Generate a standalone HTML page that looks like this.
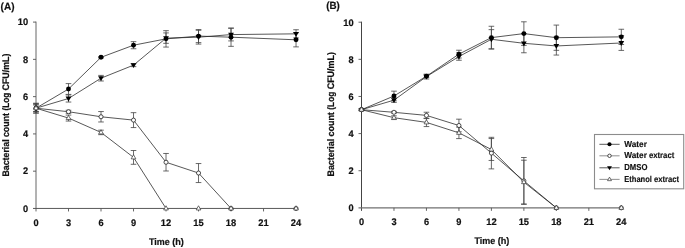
<!DOCTYPE html>
<html><head><meta charset="utf-8"><title>Bacterial count</title>
<style>
html,body{margin:0;padding:0;background:#fff;}
svg{display:block}
text{font-family:"Liberation Sans",sans-serif;font-weight:bold;fill:#111;text-rendering:geometricPrecision}
.t{font-size:9.5px;stroke:#111;stroke-width:0.2px}
.l{font-size:8.6px;stroke:#111;stroke-width:0.15px}
.p{font-size:10.4px;stroke:#111;stroke-width:0.2px}
</style></head><body>
<svg width="685" height="248" viewBox="0 0 685 248">
<rect width="685" height="248" fill="#fff"/>
<text x="0.6" y="9.7" class="p" textLength="13.9" lengthAdjust="spacingAndGlyphs">(A)</text>
<text x="326.2" y="8.8" class="p" textLength="13.6" lengthAdjust="spacingAndGlyphs">(B)</text>
<g>
<path d="M36.00 21.60V211.45" stroke="#666" stroke-width="1.0" fill="none"/>
<path d="M33.00 208.45H296.04" stroke="#505050" stroke-width="0.95" fill="none"/>
<path d="M33.00 171.18H36.00M33.00 133.91H36.00M33.00 96.64H36.00M33.00 59.37H36.00M33.00 22.10H36.00M68.50 208.45V211.45M101.01 208.45V211.45M133.52 208.45V211.45M166.02 208.45V211.45M198.53 208.45V211.45M231.03 208.45V211.45M263.54 208.45V211.45" stroke="#555" stroke-width="0.9" fill="none"/>
<text x="28.20" y="211.75" text-anchor="end" class="t" textLength="5.15" lengthAdjust="spacingAndGlyphs">0</text>
<text x="28.20" y="174.48" text-anchor="end" class="t" textLength="5.15" lengthAdjust="spacingAndGlyphs">2</text>
<text x="28.20" y="137.21" text-anchor="end" class="t" textLength="5.15" lengthAdjust="spacingAndGlyphs">4</text>
<text x="28.20" y="99.94" text-anchor="end" class="t" textLength="5.15" lengthAdjust="spacingAndGlyphs">6</text>
<text x="28.20" y="62.67" text-anchor="end" class="t" textLength="5.15" lengthAdjust="spacingAndGlyphs">8</text>
<text x="28.20" y="25.40" text-anchor="end" class="t" textLength="10.4" lengthAdjust="spacingAndGlyphs">10</text>
<text x="36.00" y="225.75" text-anchor="middle" class="t" textLength="5.15" lengthAdjust="spacingAndGlyphs">0</text>
<text x="68.50" y="225.75" text-anchor="middle" class="t" textLength="5.15" lengthAdjust="spacingAndGlyphs">3</text>
<text x="101.01" y="225.75" text-anchor="middle" class="t" textLength="5.15" lengthAdjust="spacingAndGlyphs">6</text>
<text x="133.52" y="225.75" text-anchor="middle" class="t" textLength="5.15" lengthAdjust="spacingAndGlyphs">9</text>
<text x="166.02" y="225.75" text-anchor="middle" class="t" textLength="10.4" lengthAdjust="spacingAndGlyphs">12</text>
<text x="198.53" y="225.75" text-anchor="middle" class="t" textLength="10.4" lengthAdjust="spacingAndGlyphs">15</text>
<text x="231.03" y="225.75" text-anchor="middle" class="t" textLength="10.4" lengthAdjust="spacingAndGlyphs">18</text>
<text x="263.54" y="225.75" text-anchor="middle" class="t" textLength="10.4" lengthAdjust="spacingAndGlyphs">21</text>
<text x="296.04" y="225.75" text-anchor="middle" class="t" textLength="10.4" lengthAdjust="spacingAndGlyphs">24</text>
<text y="245.05" class="t"><tspan x="149.00" textLength="20.8" lengthAdjust="spacingAndGlyphs">Time</tspan> <tspan x="172.20" textLength="11.7" lengthAdjust="spacingAndGlyphs">(h)</tspan></text>
<text transform="translate(8.65 176.55) rotate(-90)" y="0" class="t"><tspan x="0.00" textLength="37.20" lengthAdjust="spacingAndGlyphs">Bacterial</tspan> <tspan x="39.50" textLength="24.10" lengthAdjust="spacingAndGlyphs">count</tspan> <tspan x="66.00" textLength="17.80" lengthAdjust="spacingAndGlyphs">(Log</tspan> <tspan x="86.10" textLength="36.80" lengthAdjust="spacingAndGlyphs">CFU/mL)</tspan></text>
<path d="M36.00 108.19L68.50 89.00M68.50 89.00L101.01 57.32M101.01 57.32L133.52 45.21M133.52 45.21L166.02 38.87M166.02 38.87L198.53 36.08M198.53 36.08L231.03 37.19M231.03 37.19L296.04 39.80" stroke="#262626" stroke-width="0.77" fill="none"/>
<path d="M36.00 103.35V113.04M33.20 103.35H38.80M33.20 113.04H38.80M68.50 83.60V94.40M65.70 83.60H71.30M65.70 94.40H71.30M101.01 56.57V58.07M98.21 56.57H103.81M98.21 58.07H103.81M133.52 41.67V48.75M130.72 41.67H136.32M130.72 48.75H136.32M166.02 30.67V47.07M163.22 30.67H168.82M163.22 47.07H168.82M198.53 29.55V42.60M195.72 29.55H201.33M195.72 42.60H201.33M231.03 28.06V46.33M228.23 28.06H233.83M228.23 46.33H233.83M296.04 32.72V46.88M293.24 32.72H298.84M293.24 46.88H298.84" stroke="#444" stroke-width="0.8" fill="none"/>
<path d="M36.00 108.19L68.50 98.50M68.50 98.50L101.01 78.19M101.01 78.19L133.52 65.15M133.52 65.15L166.02 38.13M166.02 38.13L198.53 37.19M198.53 37.19L231.03 34.59M231.03 34.59L296.04 33.84" stroke="#262626" stroke-width="0.77" fill="none"/>
<path d="M36.00 104.84V111.55M33.20 104.84H38.80M33.20 111.55H38.80M68.50 94.96V102.04M65.70 94.96H71.30M65.70 102.04H71.30M101.01 75.40V80.99M98.21 75.40H103.81M98.21 80.99H103.81M133.52 63.66V66.64M130.72 63.66H136.32M130.72 66.64H136.32M166.02 32.91V43.34M163.22 32.91H168.82M163.22 43.34H168.82M198.53 30.30V44.09M195.72 30.30H201.33M195.72 44.09H201.33M231.03 28.25V40.92M228.23 28.25H233.83M228.23 40.92H233.83M296.04 29.74V37.94M293.24 29.74H298.84M293.24 37.94H298.84" stroke="#444" stroke-width="0.8" fill="none"/>
<path d="M36.00 108.19L68.50 111.73M68.50 111.73L101.01 116.77M101.01 116.77L133.52 120.12M133.52 120.12L166.02 162.24M166.02 162.24L198.53 173.04M198.53 173.04L231.03 208.45" stroke="#262626" stroke-width="0.77" fill="none"/>
<path d="M36.00 103.35V113.04M33.20 103.35H38.80M33.20 113.04H38.80M68.50 110.24V113.23M65.70 110.24H71.30M65.70 113.23H71.30M101.01 111.55V121.98M98.21 111.55H103.81M98.21 121.98H103.81M133.52 112.67V127.57M130.72 112.67H136.32M130.72 127.57H136.32M166.02 153.48V170.99M163.22 153.48H168.82M163.22 170.99H168.82M198.53 163.54V182.55M195.72 163.54H201.33M195.72 182.55H201.33" stroke="#444" stroke-width="0.8" fill="none"/>
<path d="M36.00 108.19L68.50 118.07M68.50 118.07L101.01 132.42M101.01 132.42L133.52 157.39M133.52 157.39L166.02 208.45" stroke="#262626" stroke-width="0.77" fill="none"/>
<path d="M36.00 104.84V111.55M33.20 104.84H38.80M33.20 111.55H38.80M68.50 115.09V121.05M65.70 115.09H71.30M65.70 121.05H71.30M101.01 130.18V134.66M98.21 130.18H103.81M98.21 134.66H103.81M133.52 150.50V164.29M130.72 150.50H136.32M130.72 164.29H136.32" stroke="#444" stroke-width="0.8" fill="none"/>
<circle cx="36.00" cy="108.19" r="2.45" fill="#000"/>
<circle cx="68.50" cy="89.00" r="2.45" fill="#000"/>
<circle cx="101.01" cy="57.32" r="2.45" fill="#000"/>
<circle cx="133.52" cy="45.21" r="2.45" fill="#000"/>
<circle cx="166.02" cy="38.87" r="2.45" fill="#000"/>
<circle cx="198.53" cy="36.08" r="2.45" fill="#000"/>
<circle cx="231.03" cy="37.19" r="2.45" fill="#000"/>
<circle cx="296.04" cy="39.80" r="2.45" fill="#000"/>
<path d="M65.60 96.60H71.41L68.50 101.40Z" fill="#000"/>
<path d="M98.11 76.29H103.91L101.01 81.09Z" fill="#000"/>
<path d="M130.62 63.25H136.42L133.52 68.05Z" fill="#000"/>
<path d="M163.12 36.23H168.92L166.02 41.03Z" fill="#000"/>
<path d="M195.62 35.29H201.43L198.53 40.09Z" fill="#000"/>
<path d="M228.13 32.69H233.93L231.03 37.49Z" fill="#000"/>
<path d="M293.14 31.94H298.94L296.04 36.74Z" fill="#000"/>
<circle cx="36.00" cy="108.19" r="2.05" fill="#fff" stroke="#222" stroke-width="0.8"/>
<circle cx="68.50" cy="111.73" r="2.05" fill="#fff" stroke="#222" stroke-width="0.8"/>
<circle cx="101.01" cy="116.77" r="2.05" fill="#fff" stroke="#222" stroke-width="0.8"/>
<circle cx="133.52" cy="120.12" r="2.05" fill="#fff" stroke="#222" stroke-width="0.8"/>
<circle cx="166.02" cy="162.24" r="2.05" fill="#fff" stroke="#222" stroke-width="0.8"/>
<circle cx="198.53" cy="173.04" r="2.05" fill="#fff" stroke="#222" stroke-width="0.8"/>
<circle cx="231.03" cy="208.45" r="2.05" fill="#fff" stroke="#222" stroke-width="0.8"/>
<circle cx="296.04" cy="208.45" r="2.05" fill="#fff" stroke="#222" stroke-width="0.8"/>
<path d="M33.65 109.69H38.35L36.00 105.49Z" fill="#fff" stroke="#333" stroke-width="0.7" stroke-linejoin="miter"/>
<path d="M66.16 119.57H70.85L68.50 115.37Z" fill="#fff" stroke="#333" stroke-width="0.7" stroke-linejoin="miter"/>
<path d="M98.66 133.92H103.36L101.01 129.72Z" fill="#fff" stroke="#333" stroke-width="0.7" stroke-linejoin="miter"/>
<path d="M131.17 158.89H135.87L133.52 154.69Z" fill="#fff" stroke="#333" stroke-width="0.7" stroke-linejoin="miter"/>
<path d="M163.67 209.95H168.37L166.02 205.75Z" fill="#fff" stroke="#333" stroke-width="0.7" stroke-linejoin="miter"/>
<path d="M196.18 209.95H200.88L198.53 205.75Z" fill="#fff" stroke="#333" stroke-width="0.7" stroke-linejoin="miter"/>
<path d="M228.68 209.95H233.38L231.03 205.75Z" fill="#fff" stroke="#333" stroke-width="0.7" stroke-linejoin="miter"/>
<path d="M293.69 209.95H298.39L296.04 205.75Z" fill="#fff" stroke="#333" stroke-width="0.7" stroke-linejoin="miter"/>
</g>
<g>
<path d="M361.50 21.70V210.85" stroke="#444" stroke-width="1.0" fill="none"/>
<path d="M358.50 207.85H621.30" stroke="#707070" stroke-width="1.25" fill="none"/>
<path d="M358.50 170.72H361.50M358.50 133.59H361.50M358.50 96.46H361.50M358.50 59.33H361.50M358.50 22.20H361.50M393.98 207.85V210.85M426.45 207.85V210.85M458.93 207.85V210.85M491.40 207.85V210.85M523.88 207.85V210.85M556.35 207.85V210.85M588.83 207.85V210.85" stroke="#555" stroke-width="0.9" fill="none"/>
<text x="353.70" y="211.15" text-anchor="end" class="t" textLength="5.15" lengthAdjust="spacingAndGlyphs">0</text>
<text x="353.70" y="174.02" text-anchor="end" class="t" textLength="5.15" lengthAdjust="spacingAndGlyphs">2</text>
<text x="353.70" y="136.89" text-anchor="end" class="t" textLength="5.15" lengthAdjust="spacingAndGlyphs">4</text>
<text x="353.70" y="99.76" text-anchor="end" class="t" textLength="5.15" lengthAdjust="spacingAndGlyphs">6</text>
<text x="353.70" y="62.63" text-anchor="end" class="t" textLength="5.15" lengthAdjust="spacingAndGlyphs">8</text>
<text x="353.70" y="25.50" text-anchor="end" class="t" textLength="10.4" lengthAdjust="spacingAndGlyphs">10</text>
<text x="361.50" y="225.15" text-anchor="middle" class="t" textLength="5.15" lengthAdjust="spacingAndGlyphs">0</text>
<text x="393.98" y="225.15" text-anchor="middle" class="t" textLength="5.15" lengthAdjust="spacingAndGlyphs">3</text>
<text x="426.45" y="225.15" text-anchor="middle" class="t" textLength="5.15" lengthAdjust="spacingAndGlyphs">6</text>
<text x="458.93" y="225.15" text-anchor="middle" class="t" textLength="5.15" lengthAdjust="spacingAndGlyphs">9</text>
<text x="491.40" y="225.15" text-anchor="middle" class="t" textLength="10.4" lengthAdjust="spacingAndGlyphs">12</text>
<text x="523.88" y="225.15" text-anchor="middle" class="t" textLength="10.4" lengthAdjust="spacingAndGlyphs">15</text>
<text x="556.35" y="225.15" text-anchor="middle" class="t" textLength="10.4" lengthAdjust="spacingAndGlyphs">18</text>
<text x="588.83" y="225.15" text-anchor="middle" class="t" textLength="10.4" lengthAdjust="spacingAndGlyphs">21</text>
<text x="621.30" y="225.15" text-anchor="middle" class="t" textLength="10.4" lengthAdjust="spacingAndGlyphs">24</text>
<text y="244.45" class="t"><tspan x="474.50" textLength="20.8" lengthAdjust="spacingAndGlyphs">Time</tspan> <tspan x="497.70" textLength="11.7" lengthAdjust="spacingAndGlyphs">(h)</tspan></text>
<text transform="translate(334.40 176.55) rotate(-90)" y="0" class="t"><tspan x="0.00" textLength="37.68" lengthAdjust="spacingAndGlyphs">Bacterial</tspan> <tspan x="40.01" textLength="24.41" lengthAdjust="spacingAndGlyphs">count</tspan> <tspan x="66.86" textLength="18.03" lengthAdjust="spacingAndGlyphs">(Log</tspan> <tspan x="87.22" textLength="37.28" lengthAdjust="spacingAndGlyphs">CFU/mL)</tspan></text>
<path d="M361.50 109.70L393.98 96.00M393.98 96.00L426.45 76.22M426.45 76.22L458.93 54.13M458.93 54.13L491.40 37.61M491.40 37.61L523.88 33.60M523.88 33.60L556.35 37.70M556.35 37.70L621.30 36.87" stroke="#262626" stroke-width="0.77" fill="none"/>
<path d="M361.50 108.95V110.44M358.70 108.95H364.30M358.70 110.44H364.30M393.98 91.17V100.82M391.18 91.17H396.78M391.18 100.82H396.78M426.45 75.11V77.34M423.65 75.11H429.25M423.65 77.34H429.25M458.93 50.23V58.03M456.12 50.23H461.73M456.12 58.03H461.73M491.40 26.28V48.93M488.60 26.28H494.20M488.60 48.93H494.20M523.88 21.81V45.39M521.08 21.81H526.67M521.08 45.39H526.67M556.35 25.08V50.33M553.55 25.08H559.15M553.55 50.33H559.15M621.30 29.25V44.48M618.50 29.25H624.10M618.50 44.48H624.10" stroke="#444" stroke-width="0.8" fill="none"/>
<path d="M361.50 109.70L393.98 100.17M393.98 100.17L426.45 76.60M426.45 76.60L458.93 56.55M458.93 56.55L491.40 39.28M491.40 39.28L523.88 43.31M523.88 43.31L556.35 45.96M556.35 45.96L621.30 42.99" stroke="#262626" stroke-width="0.77" fill="none"/>
<path d="M361.50 108.95V110.44M358.70 108.95H364.30M358.70 110.44H364.30M393.98 97.95V102.40M391.18 97.95H396.78M391.18 102.40H396.78M426.45 74.18V79.01M423.65 74.18H429.25M423.65 79.01H429.25M458.93 52.83V60.26M456.12 52.83H461.73M456.12 60.26H461.73M491.40 29.63V48.93M488.60 29.63H494.20M488.60 48.93H494.20M523.88 33.84V52.78M521.08 33.84H526.67M521.08 52.78H526.67M556.35 36.87V55.06M553.55 36.87H559.15M553.55 55.06H559.15M621.30 35.57V50.42M618.50 35.57H624.10M618.50 50.42H624.10" stroke="#444" stroke-width="0.8" fill="none"/>
<path d="M361.50 109.70L393.98 112.30M393.98 112.30L426.45 115.40M426.45 115.40L458.93 125.50M458.93 125.50L491.40 153.10M491.40 153.10L523.88 180.89M523.88 180.89L556.35 207.85" stroke="#262626" stroke-width="0.77" fill="none"/>
<path d="M361.50 108.95V110.44M358.70 108.95H364.30M358.70 110.44H364.30M393.98 111.37V113.22M391.18 111.37H396.78M391.18 113.22H396.78M426.45 112.24V118.55M423.65 112.24H429.25M423.65 118.55H429.25M458.93 119.18V131.81M456.12 119.18H461.73M456.12 131.81H461.73M491.40 137.32V168.88M488.60 137.32H494.20M488.60 168.88H494.20M523.88 157.50V204.29M521.08 157.50H526.67M521.08 204.29H526.67" stroke="#444" stroke-width="0.8" fill="none"/>
<path d="M361.50 109.70L393.98 117.70M393.98 117.70L426.45 122.40M426.45 122.40L458.93 132.85M458.93 132.85L491.40 149.50M491.40 149.50L523.88 182.14M523.88 182.14L556.35 207.85" stroke="#262626" stroke-width="0.77" fill="none"/>
<path d="M361.50 108.95V110.44M358.70 108.95H364.30M358.70 110.44H364.30M393.98 115.84V119.55M391.18 115.84H396.78M391.18 119.55H396.78M426.45 118.22V126.57M423.65 118.22H429.25M423.65 126.57H429.25M458.93 127.09V138.60M456.12 127.09H461.73M456.12 138.60H461.73M491.40 138.55V160.45M488.60 138.55H494.20M488.60 160.45H494.20M523.88 160.23V204.04M521.08 160.23H526.67M521.08 204.04H526.67" stroke="#444" stroke-width="0.8" fill="none"/>
<circle cx="361.50" cy="109.70" r="2.45" fill="#000"/>
<circle cx="393.98" cy="96.00" r="2.45" fill="#000"/>
<circle cx="426.45" cy="76.22" r="2.45" fill="#000"/>
<circle cx="458.93" cy="54.13" r="2.45" fill="#000"/>
<circle cx="491.40" cy="37.61" r="2.45" fill="#000"/>
<circle cx="523.88" cy="33.60" r="2.45" fill="#000"/>
<circle cx="556.35" cy="37.70" r="2.45" fill="#000"/>
<circle cx="621.30" cy="36.87" r="2.45" fill="#000"/>
<path d="M391.08 98.27H396.88L393.98 103.07Z" fill="#000"/>
<path d="M423.55 74.70H429.35L426.45 79.50Z" fill="#000"/>
<path d="M456.03 54.65H461.82L458.93 59.45Z" fill="#000"/>
<path d="M488.50 37.38H494.30L491.40 42.18Z" fill="#000"/>
<path d="M520.98 41.41H526.77L523.88 46.21Z" fill="#000"/>
<path d="M553.45 44.06H559.25L556.35 48.86Z" fill="#000"/>
<path d="M618.40 41.09H624.20L621.30 45.89Z" fill="#000"/>
<circle cx="361.50" cy="109.70" r="2.05" fill="#fff" stroke="#222" stroke-width="0.8"/>
<circle cx="393.98" cy="112.30" r="2.05" fill="#fff" stroke="#222" stroke-width="0.8"/>
<circle cx="426.45" cy="115.40" r="2.05" fill="#fff" stroke="#222" stroke-width="0.8"/>
<circle cx="458.93" cy="125.50" r="2.05" fill="#fff" stroke="#222" stroke-width="0.8"/>
<circle cx="491.40" cy="153.10" r="2.05" fill="#fff" stroke="#222" stroke-width="0.8"/>
<circle cx="523.88" cy="180.89" r="2.05" fill="#fff" stroke="#222" stroke-width="0.8"/>
<circle cx="556.35" cy="207.85" r="2.05" fill="#fff" stroke="#222" stroke-width="0.8"/>
<circle cx="621.30" cy="207.85" r="2.05" fill="#fff" stroke="#222" stroke-width="0.8"/>
<path d="M359.15 111.20H363.85L361.50 107.00Z" fill="#fff" stroke="#333" stroke-width="0.7" stroke-linejoin="miter"/>
<path d="M391.62 119.20H396.33L393.98 115.00Z" fill="#fff" stroke="#333" stroke-width="0.7" stroke-linejoin="miter"/>
<path d="M424.10 123.90H428.80L426.45 119.70Z" fill="#fff" stroke="#333" stroke-width="0.7" stroke-linejoin="miter"/>
<path d="M456.57 134.35H461.28L458.93 130.15Z" fill="#fff" stroke="#333" stroke-width="0.7" stroke-linejoin="miter"/>
<path d="M489.05 151.00H493.75L491.40 146.80Z" fill="#fff" stroke="#333" stroke-width="0.7" stroke-linejoin="miter"/>
<path d="M521.52 183.64H526.23L523.88 179.44Z" fill="#fff" stroke="#333" stroke-width="0.7" stroke-linejoin="miter"/>
<path d="M554.00 209.35H558.70L556.35 205.15Z" fill="#fff" stroke="#333" stroke-width="0.7" stroke-linejoin="miter"/>
<path d="M618.95 209.35H623.65L621.30 205.15Z" fill="#fff" stroke="#333" stroke-width="0.7" stroke-linejoin="miter"/>
</g>
<g>
<rect x="594.5" y="134.5" width="89.2" height="54.3" fill="#fff" stroke="#8c8c8c" stroke-width="1.1"/>
<path d="M599.4 144.3H619.6" stroke="#222" stroke-width="0.75"/>
<circle cx="609.50" cy="144.30" r="2.06" fill="#000"/>
<text y="146.85" class="l"><tspan x="624.30" textLength="22.6" lengthAdjust="spacingAndGlyphs">Water</tspan></text>
<path d="M599.4 155.8H619.6" stroke="#999" stroke-width="1.1"/>
<circle cx="609.50" cy="155.80" r="1.72" fill="#fff" stroke="#222" stroke-width="0.8"/>
<text y="158.35" class="l"><tspan x="624.30" textLength="22.6" lengthAdjust="spacingAndGlyphs">Water</tspan> <tspan x="648.90" textLength="25.4" lengthAdjust="spacingAndGlyphs">extract</tspan></text>
<path d="M599.4 167.8H619.6" stroke="#222" stroke-width="0.75"/>
<path d="M607.06 166.20H611.94L609.50 170.24Z" fill="#000"/>
<text y="170.35" class="l"><tspan x="624.30" textLength="23.1" lengthAdjust="spacingAndGlyphs">DMSO</tspan></text>
<path d="M599.4 179.4H619.6" stroke="#999" stroke-width="1.1"/>
<path d="M607.53 180.66H611.47L609.50 177.13Z" fill="#fff" stroke="#333" stroke-width="0.7" stroke-linejoin="miter"/>
<text y="181.95" class="l"><tspan x="624.30" textLength="27.6" lengthAdjust="spacingAndGlyphs">Ethanol</tspan> <tspan x="653.90" textLength="25.2" lengthAdjust="spacingAndGlyphs">extract</tspan></text>
</g>
</svg>
</body></html>
